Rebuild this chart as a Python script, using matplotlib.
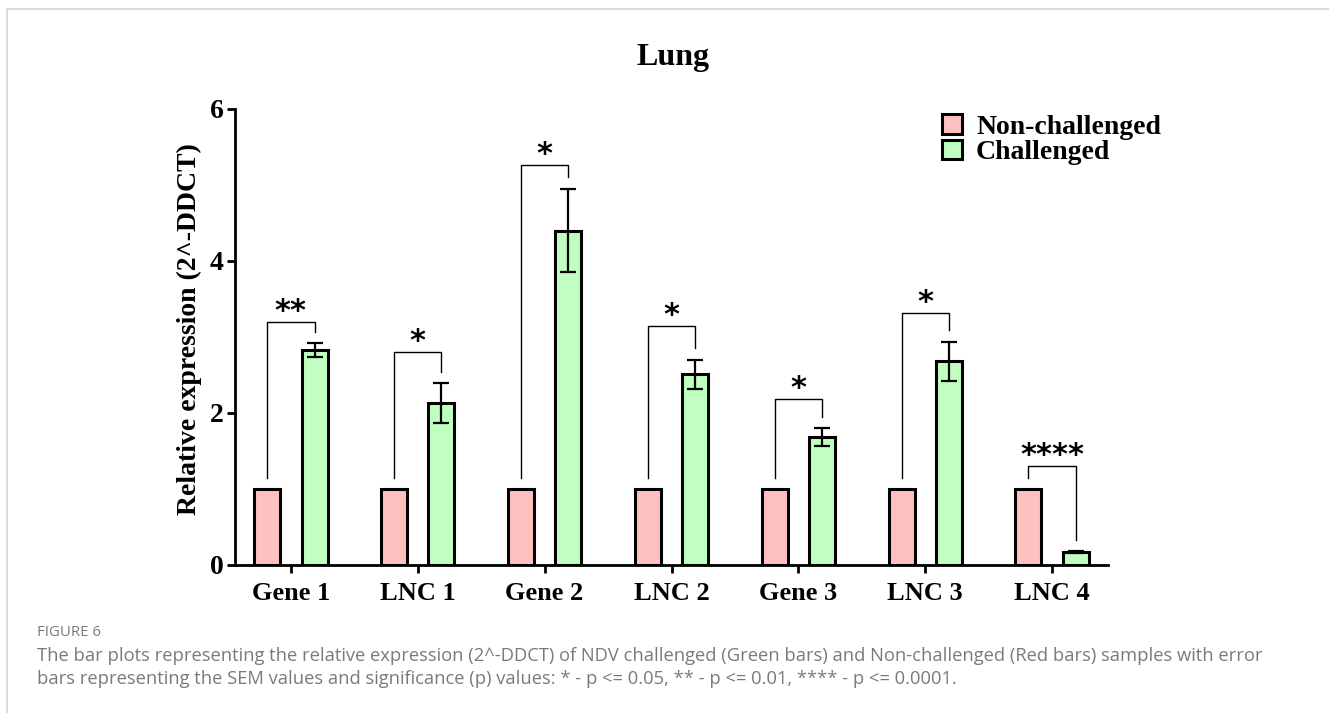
# -*- coding: utf-8 -*-

import numpy as np
import matplotlib as mpl
mpl.use('Agg')
import matplotlib.pyplot as plt
from matplotlib.patches import Patch
from matplotlib.lines import Line2D

# data
genes = ["Gene 1", "LNC 1", "Gene 2", "LNC 2", "Gene 3", "LNC 3", "LNC 4"]
non_challenged = [1, 1, 1, 1, 1, 1, 1]
challenged = [2.83, 2.13, 4.40, 2.51, 1.68, 2.68, 0.17]
challenged_sem = [0.09, 0.26, 0.55, 0.19, 0.12, 0.26, 0.015]
signif = ["**", "*", "*", "*", "*", "*", "****"]
bracket_top = [3.20, 2.80, 5.26, 3.14, 2.18, 3.31, 1.30]
yticks = [0, 2, 4, 6]

red = "#ffc0c0"
green = "#c0ffc0"
serif = "Liberation Serif"

W, H = 1329, 713
fig = plt.figure(figsize=(W / 100, H / 100), dpi=100)
ax = fig.add_axes([235 / W, 1 - 565 / H, (1108 - 235) / W, (565 - 109) / H])

x = np.arange(len(genes))
off = 0.187
w = 0.205

ax.bar(x - off, non_challenged, width=w, color=red, edgecolor="black", linewidth=2.2, zorder=2)
ax.bar(x + off, challenged, width=w, color=green, edgecolor="black", linewidth=2.2, zorder=2)
ax.errorbar(x + off, challenged, yerr=challenged_sem, fmt="none", ecolor="black",
            elinewidth=1.6, capsize=5.5, capthick=1.6, zorder=3)

# significance brackets
gap = 0.15
for i in range(len(genes)):
    xl = x[i] - off
    xr = x[i] + off
    yl = non_challenged[i] + gap
    yr = challenged[i] + challenged_sem[i] + gap
    h = bracket_top[i]
    ax.plot([xl, xl, xr, xr], [yl, h, h, yr], color="black", lw=1.0, zorder=3)
    ax.text((xl + xr) / 2, h + 0.03, signif[i], ha="center", va="baseline",
            fontsize=22, fontweight="bold", family="DejaVu Sans")

ax.set_xlim(-0.44, len(genes) - 1 + 0.44)
ax.set_ylim(0, 6)
ax.set_yticks(yticks)
ax.set_xticks(x)
ax.set_xticklabels(genes)
for lab in ax.get_xticklabels() + ax.get_yticklabels():
    lab.set_family(serif)
    lab.set_fontweight("bold")
for lab in ax.get_xticklabels():
    lab.set_fontsize(19)
for lab in ax.get_yticklabels():
    lab.set_fontsize(20)
ax.tick_params(axis="x", length=6, width=2, pad=6)
ax.tick_params(axis="y", length=6, width=2, pad=2)

ax.spines["top"].set_visible(False)
ax.spines["right"].set_visible(False)
ax.spines["left"].set_linewidth(2)
ax.spines["bottom"].set_linewidth(2)

ax.set_ylabel("Relative expression (2^-DDCT)", family=serif, fontweight="bold", fontsize=20)
ax.yaxis.set_label_coords(-0.038, 0.517)

handles = [Patch(facecolor=red, edgecolor="black", linewidth=2.2, label="Non-challenged"),
           Patch(facecolor=green, edgecolor="black", linewidth=2.2, label="Challenged")]
ax.legend(handles=handles, loc="upper left", bbox_to_anchor=(0.81, 0.989), frameon=False,
          prop=dict(family=serif, weight="bold", size=20), handlelength=0.72,
          handleheight=0.72, handletextpad=0.5, labelspacing=0.0, borderpad=0,
          borderaxespad=0)

fig.text(673 / W, 1 - 57 / H, "Lung", ha="center", va="center", fontsize=23,
         fontweight="bold", family=serif)

# caption
cap_color = "#7a7a7a"
fig.text(37 / W, 1 - 633 / H, "FIGURE 6", ha="left", va="center", fontsize=10.8,
         color=cap_color, family="Open Sans")
fig.text(37 / W, 1 - 656 / H,
         "The bar plots representing the relative expression (2^-DDCT) of NDV challenged "
         "(Green bars) and Non-challenged (Red bars) samples with error",
         ha="left", va="center", fontsize=13.2, color=cap_color, family="Open Sans")
fig.text(37 / W, 1 - 679 / H,
         "bars representing the SEM values and significance (p) values: * - p <= 0.05, "
         "** - p <= 0.01, **** - p <= 0.0001.",
         ha="left", va="center", fontsize=13.2, color=cap_color, family="Open Sans")

# frame around the figure panel
fig.add_artist(Line2D([7 / W, 7 / W], [0, 1 - 9 / H], transform=fig.transFigure,
                      color="#d4d4d4", lw=1.2))
fig.add_artist(Line2D([7 / W, 1], [1 - 9 / H, 1 - 9 / H], transform=fig.transFigure,
                      color="#d4d4d4", lw=1.2))

fig.savefig("out.png", dpi=100)
plt.close()
